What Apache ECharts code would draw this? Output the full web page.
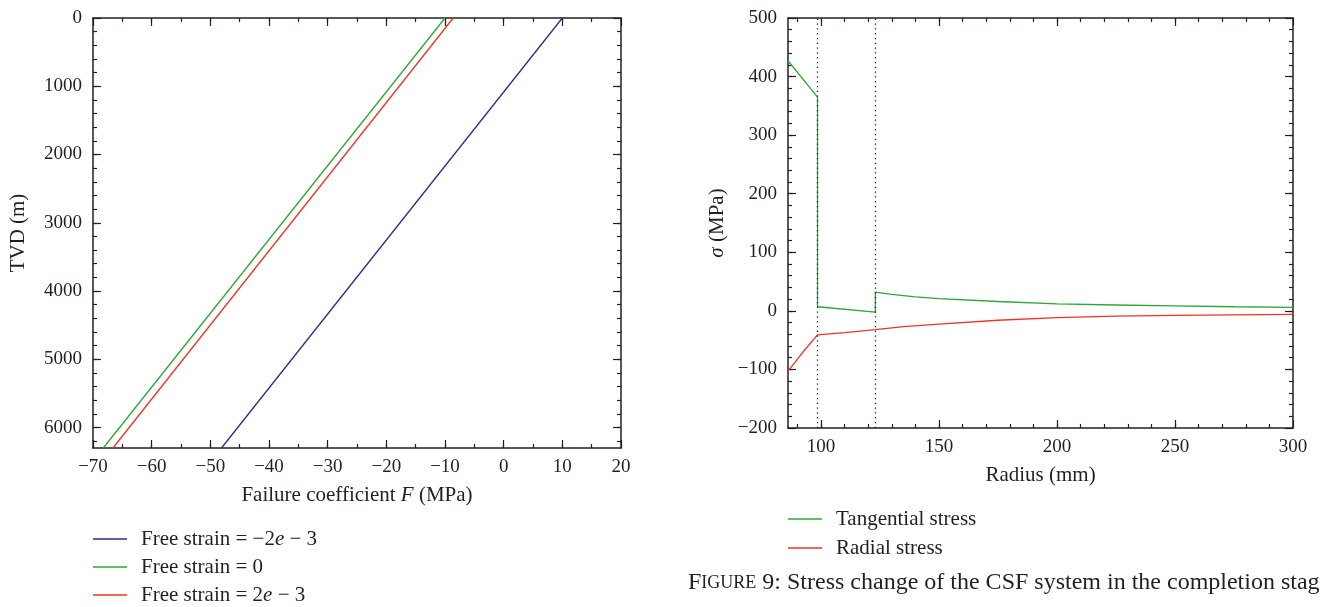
<!DOCTYPE html>
<html>
<head>
<meta charset="utf-8">
<script src="https://cdn.jsdelivr.net/npm/echarts@6/dist/echarts.min.js"></script>
<style>html,body{margin:0;padding:0;background:#fff}#c{width:1320px;height:607px}</style>
</head>
<body>
<div id="c"></div>
<script>
// ---------- Left chart data ----------
const depthPts = [0, 6300];                 // TVD (m)
const fStrainNeg = [10.0, -48.1];           // Free strain = -2e-3
const fStrainZero = [-10.0, -68.25];        // Free strain = 0
const fStrainPos = [-8.6, -66.6];           // Free strain = 2e-3
const leftXTicks = [-70, -60, -50, -40, -30, -20, -10, 0, 10, 20];
const leftYTicks = [0, 1000, 2000, 3000, 4000, 5000, 6000];

// ---------- Right chart data ----------
const radiusTan = [86, 98.5, 98.5, 123, 123, 130, 140, 150, 175, 200, 225, 250, 275, 300];
const tangential = [427, 365, 7, -2, 32, 28, 24, 21, 16, 12, 10, 8.5, 7, 6];
const radiusRad = [86, 92, 98.5, 110, 123, 135, 150, 175, 200, 225, 250, 275, 300];
const radial = [-103, -72, -41, -37, -32, -27, -22.5, -16, -11.5, -9, -7.7, -6.8, -6];
const boundaries = [98.5, 123];
const rightXTicks = [100, 150, 200, 250, 300];
const rightYTicks = [-200, -100, 0, 100, 200, 300, 400, 500];

const INK = '#231f20';
const FONT = 'Liberation Serif';
const BLUE = '#2e2b8f', GREEN = '#2fa636', RED = '#ee3424';
const TICK_FS = 19, NAME_FS = 21, LEG_FS = 21;

function range(a, b, s) { const r = []; for (let v = a; v <= b + 1e-9; v += s) r.push(Math.round(v * 1000) / 1000); return r; }
function minus(v) { return String(v).replace('-', '\u2212'); }

function axis(gi, pos, min, max, ticks, len, o) {
  o = o || {};
  return Object.assign({
    type: 'value', gridIndex: gi, position: pos, min: min, max: max,
    inverse: !!o.inverse,
    axisLine: { show: !!o.line, onZero: false, lineStyle: { color: INK, width: 1.5 } },
    axisTick: { show: true, inside: true, length: len, customValues: ticks, lineStyle: { color: INK, width: 1.2 } },
    axisLabel: o.labels ? { show: true, customValues: ticks, color: INK, fontFamily: FONT, fontSize: TICK_FS, margin: o.margin || 10, formatter: minus } : { show: false },
    splitLine: { show: false }
  }, o.extra || {});
}

function nameStyle() {
  return { color: INK, fontFamily: FONT, fontSize: NAME_FS, rich: { i: { fontStyle: 'italic', fontFamily: FONT, fontSize: NAME_FS, color: INK } } };
}

const xAxes = [
  axis(0, 'bottom', -70, 20, leftXTicks, 8, { line: true, labels: true, extra: {
    name: 'Failure coefficient {i|F} (MPa)', nameLocation: 'middle', nameGap: 37, nameTextStyle: nameStyle() } }),
  axis(0, 'bottom', -70, 20, range(-65, 15, 5), 4),
  axis(0, 'top', -70, 20, leftXTicks, 8, { line: true }),
  axis(0, 'top', -70, 20, range(-65, 15, 5), 4),
  axis(1, 'bottom', 86, 300, rightXTicks, 8, { line: true, labels: true, extra: {
    name: 'Radius (mm)', nameLocation: 'middle', nameGap: 37, nameTextStyle: nameStyle() } }),
  axis(1, 'bottom', 86, 300, range(90, 290, 10), 4),
  axis(1, 'top', 86, 300, rightXTicks, 8, { line: true }),
  axis(1, 'top', 86, 300, range(90, 290, 10), 4)
];
const yAxes = [
  axis(0, 'left', 0, 6300, leftYTicks, 8, { inverse: true, line: true, labels: true, margin: 11, extra: {
    name: 'TVD (m)', nameLocation: 'middle', nameGap: 64, nameTextStyle: nameStyle() } }),
  axis(0, 'left', 0, 6300, range(200, 6200, 200), 4, { inverse: true }),
  axis(0, 'right', 0, 6300, leftYTicks, 8, { inverse: true, line: true }),
  axis(0, 'right', 0, 6300, range(200, 6200, 200), 4, { inverse: true }),
  axis(1, 'left', -200, 500, rightYTicks, 8, { line: true, labels: true, margin: 11, extra: {
    name: '{i|\u03c3} (MPa)', nameLocation: 'middle', nameGap: 60, nameTextStyle: nameStyle() } }),
  axis(1, 'left', -200, 500, range(-180, 480, 20), 4),
  axis(1, 'right', -200, 500, rightYTicks, 8, { line: true }),
  axis(1, 'right', -200, 500, range(-180, 480, 20), 4)
];

function pairs(xs, ys) { return xs.map((x, i) => [x, ys[i]]); }
function pairsYX(ys, xs) { return ys.map((y, i) => [xs[i], y]); }

const lineBase = { type: 'line', showSymbol: false, symbol: 'none', silent: true, animation: false };

const series = [
  Object.assign({}, lineBase, { name: 'Free strain = \u22122{i|e} \u2212 3', xAxisIndex: 0, yAxisIndex: 0, data: pairsYX(depthPts, fStrainNeg), lineStyle: { color: BLUE, width: 1.3 }, itemStyle: { color: BLUE } }),
  Object.assign({}, lineBase, { name: 'Free strain = 0', xAxisIndex: 0, yAxisIndex: 0, data: pairsYX(depthPts, fStrainZero), lineStyle: { color: GREEN, width: 1.3 }, itemStyle: { color: GREEN } }),
  Object.assign({}, lineBase, { name: 'Free strain = 2{i|e} \u2212 3', xAxisIndex: 0, yAxisIndex: 0, data: pairsYX(depthPts, fStrainPos), lineStyle: { color: RED, width: 1.3 }, itemStyle: { color: RED } }),
  Object.assign({}, lineBase, { name: 'Tangential stress', xAxisIndex: 4, yAxisIndex: 4, data: pairs(radiusTan, tangential), lineStyle: { color: GREEN, width: 1.3 }, itemStyle: { color: GREEN },
    markLine: { symbol: 'none', silent: true, animation: false, label: { show: false }, lineStyle: { color: INK, type: [1.3, 3.5], width: 1.3 }, data: boundaries.map(b => ({ xAxis: b })) } }),
  Object.assign({}, lineBase, { name: 'Radial stress', xAxisIndex: 4, yAxisIndex: 4, data: pairs(radiusRad, radial), lineStyle: { color: RED, width: 1.3 }, itemStyle: { color: RED } })
];

const legendText = { color: INK, fontFamily: FONT, fontSize: LEG_FS, lineHeight: 24, padding: [0, 0, 0, 9],
  rich: { i: { fontStyle: 'italic', fontFamily: FONT, fontSize: LEG_FS, color: INK } } };

const option = {
  backgroundColor: '#fff',
  animation: false,
  grid: [
    { left: 93, top: 18, width: 528, height: 430 },
    { left: 788, top: 18, width: 505, height: 410 }
  ],
  xAxis: xAxes,
  yAxis: yAxes,
  legend: [
    { data: [series[0].name, series[1].name, series[2].name], left: 93, top: 527, padding: 0, orient: 'vertical', icon: 'rect', itemWidth: 34, itemHeight: 1.5, itemGap: 4, textStyle: legendText, selectedMode: false },
    { data: [series[3].name, series[4].name], left: 788, top: 507, padding: 0, orient: 'vertical', icon: 'rect', itemWidth: 34, itemHeight: 1.5, itemGap: 5, textStyle: legendText, selectedMode: false }
  ],
  graphic: [
    { type: 'text', left: 688, top: 571, style: { text: '{a|F}{b|IGURE} 9: Stress change of the CSF system in the completion stage.', fill: INK,
      rich: { a: { fontFamily: FONT, fontSize: 24, fill: INK }, b: { fontFamily: FONT, fontSize: 18, fill: INK } },
      fontFamily: FONT, fontSize: 24 } }
  ],
  series: series
};

const chart = echarts.init(document.getElementById('c'), null, { renderer: 'canvas' });
chart.setOption(option);
</script>
</body>
</html>
